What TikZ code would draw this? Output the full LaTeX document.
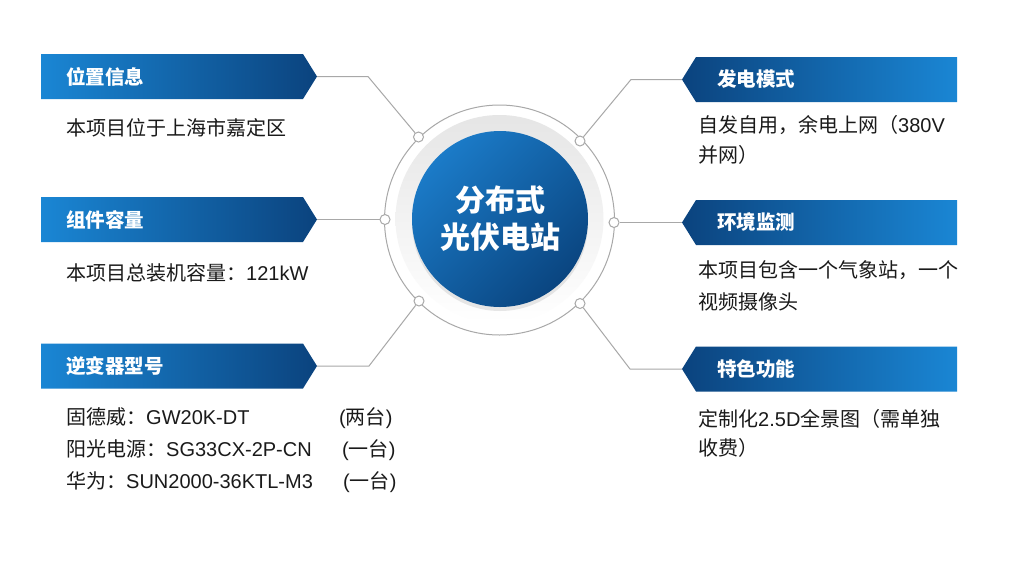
\documentclass[tikz,border=0pt]{standalone}
\usepackage{fontspec}
\setmainfont{Noto Sans CJK SC}
\newfontfamily\latinfont{Liberation Sans}
\usetikzlibrary{shadows}
\definecolor{barlight}{HTML}{1A86D4}
\definecolor{bardark}{HTML}{0B437E}
\definecolor{hubtop}{HTML}{1B7BC8}
\definecolor{hubbot}{HTML}{0A4580}
\definecolor{linegray}{HTML}{A8A8A8}
\definecolor{bodytext}{HTML}{1A1A1A}
\newcommand{\lat}[1]{{\latinfont #1}}
% banners: name, centre y, title
\newcommand{\leftbar}[3]{%
  \shade[left color=barlight, right color=bardark]
    (41,#2-22.5) -- (303,#2-22.5) -- (317,#2) -- (303,#2+22.5) -- (41,#2+22.5) -- cycle;
  \node[bartitle, anchor=west] (#1) at (66,#2) {#3};
  \coordinate (#1-tip) at (317,#2);}
\newcommand{\rightbar}[3]{%
  \shade[left color=bardark, right color=barlight]
    (957,#2-22.5) -- (696,#2-22.5) -- (682,#2) -- (696,#2+22.5) -- (957,#2+22.5) -- cycle;
  \node[bartitle, anchor=west] (#1) at (717,#2) {#3};
  \coordinate (#1-tip) at (682,#2);}

\begin{document}
\begin{tikzpicture}[x=1pt, y=-1pt,
    bartitle/.style={text=white, inner sep=0pt, font=\fontsize{19.5}{22}\selectfont\bfseries},
    body/.style={text=bodytext, inner sep=0pt, align=left, anchor=west},
    link/.style={draw=linegray, line width=1pt},
    dot/.style={circle, draw=linegray, fill=white, line width=1pt, minimum size=10pt, inner sep=0pt},
    hub/.style={circle, minimum size=176pt, inner sep=0pt, align=center, text=white,
      top color=hubtop, bottom color=hubbot, shading angle=45,
      drop shadow={shadow xshift=0pt, shadow yshift=-4pt, opacity=0.18},
      font=\fontsize{30}{37}\selectfont\bfseries}]
\fill[white] (0,0) rectangle (1010,566);
\useasboundingbox (0,0) rectangle (1010,566);

% centre
\draw[linegray, line width=1pt] (499.5,220) circle[radius=115];
\shade[top color=black!10, bottom color=white] (499.5,219) circle[radius=104];
\node[hub] (c) at (500,219) {分布式\\光伏电站};

% banners
\leftbar{loc}{76.5}{位置信息}
\leftbar{cap}{219.5}{组件容量}
\leftbar{inv}{366}{逆变器型号}
\rightbar{mode}{79.5}{发电模式}
\rightbar{env}{222.5}{环境监测}
\rightbar{feat}{369}{特色功能}

% dots on the ring
\node[dot] (d1) at (418.5,137) {};
\node[dot] (d2) at (580,141) {};
\node[dot] (d3) at (385,219.5) {};
\node[dot] (d4) at (614,222.5) {};
\node[dot] (d5) at (419,301) {};
\node[dot] (d6) at (580,303.5) {};

\draw[link] (loc-tip) -- ++(51,0) -- (d1);
\draw[link] (mode-tip) -- ++(-51,0) -- (d2);
\draw[link] (cap-tip) -- (d3);
\draw[link] (env-tip) -- (d4);
\draw[link] (inv-tip) -- ++(52,0) -- (d5);
\draw[link] (feat-tip) -- ++(-52,0) -- (d6);

% texts
\node[body, font=\fontsize{20}{30}\selectfont] (loc-t) at (66,128) {本项目位于上海市嘉定区};
\node[body, font=\fontsize{20}{30}\selectfont] (cap-t) at (66,273) {本项目总装机容量：\lat{121kW}};
\node[body, font=\fontsize{20}{32}\selectfont] (inv-t) at (66,450) {%
  \makebox[273pt][l]{固德威：\lat{GW20K-DT}}\lat{(}两台\lat{)}\\
  \makebox[276pt][l]{阳光电源：\lat{SG33CX-2P-CN}}\lat{(}一台\lat{)}\\
  \makebox[277pt][l]{华为：\lat{SUN2000-36KTL-M3}}\lat{(}一台\lat{)}};
\node[body, font=\fontsize{20}{30}\selectfont] (mode-t) at (698,140) {自发自用，余电上网（\lat{380V}\\并网）};
\node[body, font=\fontsize{20}{32}\selectfont] (env-t) at (698,286) {本项目包含一个气象站，一个\\视频摄像头};
\node[body, font=\fontsize{20}{29}\selectfont] (feat-t) at (698,433.5) {定制化\lat{2.5D}全景图（需单独\\收费）};
\end{tikzpicture}
\end{document}
